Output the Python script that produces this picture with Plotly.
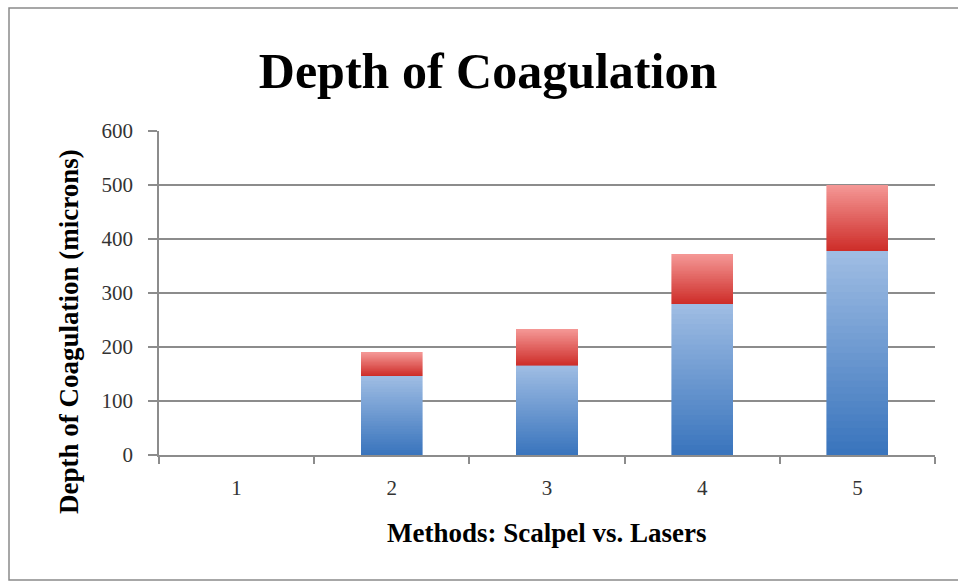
import plotly.graph_objects as go

categories = ["1", "2", "3", "4", "5"]
scalpel_depth = [0, 147, 166, 280, 378]   # blue (lower) segment
laser_depth = [0, 43, 67, 92, 122]        # red (upper) segment
y_ticks = [0, 100, 200, 300, 400, 500, 600]

N = 30  # slices per segment used to imitate the vertical gradient fill


def lerp(c0, c1, t):
    return "rgb(%d,%d,%d)" % tuple(round(a + (b - a) * t) for a, b in zip(c0, c1))


fig = go.Figure()


def add_gradient(values, bottom_rgb, top_rgb, name):
    for k in range(N):
        col = lerp(bottom_rgb, top_rgb, k / (N - 1))
        fig.add_trace(go.Bar(
            x=categories,
            y=[v / N for v in values],
            marker=dict(color=col, line=dict(color=col, width=0.6)),
            name=name,
            showlegend=False,
            hoverinfo="skip",
        ))


add_gradient(scalpel_depth, (58, 117, 189), (158, 188, 227), "Scalpel")
add_gradient(laser_depth, (206, 46, 42), (244, 150, 148), "Laser")

serif = "Liberation Serif"
L, R, T, B = 159, 23, 131, 129
PW, PH = 958 - L - R, 584 - T - B


def px_x(x):
    return (x - L) / PW


def px_y(y):
    return (584 - B - y) / PH


fig.update_layout(
    barmode="stack",
    bargap=0.606,
    width=958,
    height=584,
    margin=dict(l=L, r=R, t=T, b=B),
    paper_bgcolor="white",
    plot_bgcolor="white",
    title=dict(
        text="<b>Depth of Coagulation</b>",
        font=dict(family=serif, size=50, color="black"),
        x=488 / 958, xanchor="center",
        y=1 - 70 / 584, yanchor="middle",
    ),
    xaxis=dict(
        type="category",
        tickson="boundaries",
        ticks="outside",
        ticklen=7,
        tickcolor="#8c8c8c",
        tickwidth=1.5,
        showline=True,
        linecolor="#8c8c8c",
        linewidth=1.5,
        showgrid=False,
        ticklabelstandoff=13,
        tickfont=dict(family=serif, size=21, color="#333333"),
    ),
    yaxis=dict(
        range=[0, 600],
        tickvals=y_ticks,
        ticks="outside",
        ticklen=9,
        tickcolor="#8c8c8c",
        tickwidth=1.5,
        showline=True,
        linecolor="#8c8c8c",
        linewidth=1.5,
        showgrid=True,
        gridcolor="#8c8c8c",
        gridwidth=1.5,
        zeroline=False,
        ticklabelstandoff=11,
        tickfont=dict(family=serif, size=21, color="#333333"),
    ),
    annotations=[
        dict(text="<b>Methods: Scalpel vs. Lasers</b>", xref="paper", yref="paper",
             x=px_x(547), y=px_y(533), xanchor="center", yanchor="middle",
             showarrow=False, font=dict(family=serif, size=27, color="black")),
        dict(text="<b>Depth of Coagulation (microns)</b>", xref="paper", yref="paper",
             x=px_x(69), y=px_y(332), xanchor="center", yanchor="middle",
             textangle=-90, showarrow=False,
             font=dict(family=serif, size=27, color="black")),
    ],
    shapes=[dict(
        type="rect", xref="paper", yref="paper",
        x0=px_x(9), x1=px_x(1100),
        y0=px_y(580), y1=px_y(8),
        line=dict(color="#8a8a8a", width=1.5),
        fillcolor="rgba(0,0,0,0)", layer="below",
    )],
)

fig.write_html("out.html")
